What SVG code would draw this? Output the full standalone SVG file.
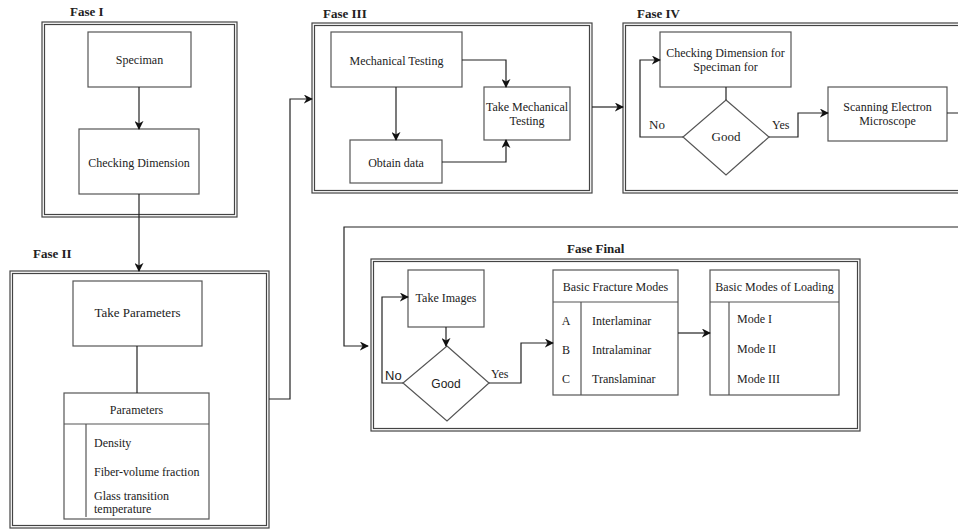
<svg xmlns="http://www.w3.org/2000/svg" width="958" height="529" viewBox="0 0 958 529">
<style>
.frame{fill:none;stroke:#444;stroke-width:1.2}
.box{fill:#fff;stroke:#555;stroke-width:1.2}
.line{fill:none;stroke:#222;stroke-width:1.2}
.edge{fill:none;stroke:#222;stroke-width:1.2}
text{font-family:"Liberation Serif","Times New Roman",serif;font-size:12px;fill:#222}
.c{text-anchor:middle}
.title{font-weight:bold;font-size:13px}
.sans{font-family:"Liberation Sans",Arial,sans-serif}
</style>
<defs>
<marker id="arr" viewBox="0 0 10 10" refX="9" refY="5" markerWidth="9" markerHeight="9" markerUnits="userSpaceOnUse" orient="auto">
<path d="M0,0 L10,5 L0,10 L3,5 Z" fill="#111"/>
</marker>
</defs>
<rect width="958" height="529" fill="#fff"/>

<g id="fase1">
<text class="title" x="70" y="16">Fase I</text>
<rect class="frame" x="42" y="22" width="195" height="195"/>
<rect class="frame" x="44.5" y="24.5" width="190" height="190"/>
</g>
<g id="speciman">
<rect class="box" x="88" y="32" width="103" height="55"/>
<text class="c" x="139.5" y="64">Speciman</text>
</g>
<g id="checkdim">
<rect class="box" x="79" y="129" width="120" height="65"/>
<text class="c" x="139" y="167">Checking Dimension</text>
</g>

<g id="fase2">
<text class="title" x="33" y="258">Fase II</text>
<rect class="frame" x="10" y="271" width="259" height="257"/>
<rect class="frame" x="12.5" y="273.5" width="254" height="252"/>
</g>
<g id="takeparams">
<rect class="box" x="73" y="281" width="129" height="65"/>
<text class="c" x="137.5" y="317" style="font-size:13px">Take Parameters</text>
</g>
<g id="params">
<rect class="box" x="64" y="393" width="145" height="126"/>
<line class="box" x1="64" y1="424" x2="209" y2="424"/>
<line class="box" x1="86" y1="424" x2="86" y2="517"/>
<text class="c" x="136.5" y="414">Parameters</text>
<text x="94" y="447">Density</text>
<text x="94" y="476">Fiber-volume fraction</text>
<text x="94" y="500">Glass transition</text>
<text x="94" y="513">temperature</text>
</g>

<g id="fase3">
<text class="title" x="323" y="18">Fase III</text>
<rect class="frame" x="312" y="23" width="280" height="170"/>
<rect class="frame" x="314.5" y="25.5" width="275" height="165"/>
</g>
<g id="mechtest">
<rect class="box" x="331" y="32" width="131" height="55"/>
<text class="c" x="396.5" y="65">Mechanical Testing</text>
</g>
<g id="takemech">
<rect class="box" x="484" y="87" width="86" height="53"/>
<text class="c" x="527" y="111">Take Mechanical</text>
<text class="c" x="527" y="125">Testing</text>
</g>
<g id="obtain">
<rect class="box" x="350" y="140" width="92" height="43"/>
<text class="c" x="396" y="167">Obtain data</text>
</g>

<g id="fase4">
<text class="title" x="637" y="18">Fase IV</text>
<rect class="frame" x="623" y="23" width="345" height="170"/>
<rect class="frame" x="625.5" y="25.5" width="340" height="165"/>
</g>
<g id="checkdim2">
<rect class="box" x="660" y="32" width="131" height="55"/>
<text class="c" x="725.5" y="57">Checking Dimension for</text>
<text class="c" x="725.5" y="71">Speciman for</text>
</g>
<g id="good1">
<polygon class="box" points="726,100 769,137 726,175 683,137"/>
<text class="c" x="726" y="141" style="font-size:13px">Good</text>
</g>
<g id="sem">
<rect class="box" x="828" y="87" width="119" height="54"/>
<text class="c" x="887.5" y="111">Scanning Electron</text>
<text class="c" x="887.5" y="125">Microscope</text>
</g>

<g id="fasefinal">
<text class="title" x="567" y="253">Fase Final</text>
<rect class="frame" x="371" y="259" width="489" height="172"/>
<rect class="frame" x="373.5" y="261.5" width="484" height="167"/>
</g>
<g id="takeimages">
<rect class="box" x="408" y="270" width="76" height="57"/>
<text class="c" x="446" y="302">Take Images</text>
</g>
<g id="good2">
<polygon class="box" points="447,346 489,383 447,421 403,383"/>
<text class="c sans" x="446" y="388" style="font-size:12px">Good</text>
</g>
<g id="fracture">
<rect class="box" x="553" y="270" width="125" height="125"/>
<line class="box" x1="553" y1="302" x2="678" y2="302"/>
<line class="box" x1="581" y1="302" x2="581" y2="395"/>
<text class="c" x="615.5" y="291">Basic Fracture Modes</text>
<text class="c" x="566" y="325">A</text>
<text class="c" x="566" y="354">B</text>
<text class="c" x="566" y="383">C</text>
<text x="592" y="325">Interlaminar</text>
<text x="592" y="354">Intralaminar</text>
<text x="592" y="383">Translaminar</text>
</g>
<g id="loading">
<rect class="box" x="710" y="270" width="129" height="125"/>
<line class="box" x1="710" y1="302" x2="839" y2="302"/>
<line class="box" x1="729" y1="302" x2="729" y2="395"/>
<text class="c" x="774.5" y="291">Basic Modes of Loading</text>
<text x="737" y="323">Mode I</text>
<text x="737" y="353">Mode II</text>
<text x="737" y="383">Mode III</text>
</g>

<g id="connectors">
<path class="edge" d="M139,87 V129" marker-end="url(#arr)"/>
<path class="edge" d="M139,194 V271" marker-end="url(#arr)"/>
<path class="line" d="M137,346 V393"/>
<path class="edge" d="M269,399 H290 V99 H312" marker-end="url(#arr)"/>
<path class="edge" d="M396,87 V140" marker-end="url(#arr)"/>
<path class="edge" d="M462,60 H506 V87" marker-end="url(#arr)"/>
<path class="edge" d="M442,162 H506 V140" marker-end="url(#arr)"/>
<path class="edge" d="M592,107 H623" marker-end="url(#arr)"/>
<path class="line" d="M726,87 V100"/>
<path class="edge" d="M683,137 H640 V60 H660" marker-end="url(#arr)"/>
<path class="edge" d="M769,137 H798 V113 H828" marker-end="url(#arr)"/>
<path class="edge" d="M947,113 H975 V227 H344 V346 H368" marker-end="url(#arr)"/>
<path class="edge" d="M446,327 V346" marker-end="url(#arr)"/>
<path class="edge" d="M403,383 H382 V297 H408" marker-end="url(#arr)"/>
<path class="edge" d="M489,383 H521 V343 H553" marker-end="url(#arr)"/>
<path class="edge" d="M678,333 H710" marker-end="url(#arr)"/>
<text x="649" y="129" style="font-size:13px">No</text>
<text x="772" y="129">Yes</text>
<text class="sans" x="385" y="380" style="font-size:13px">No</text>
<text x="491" y="378">Yes</text>
</g>
</svg>
